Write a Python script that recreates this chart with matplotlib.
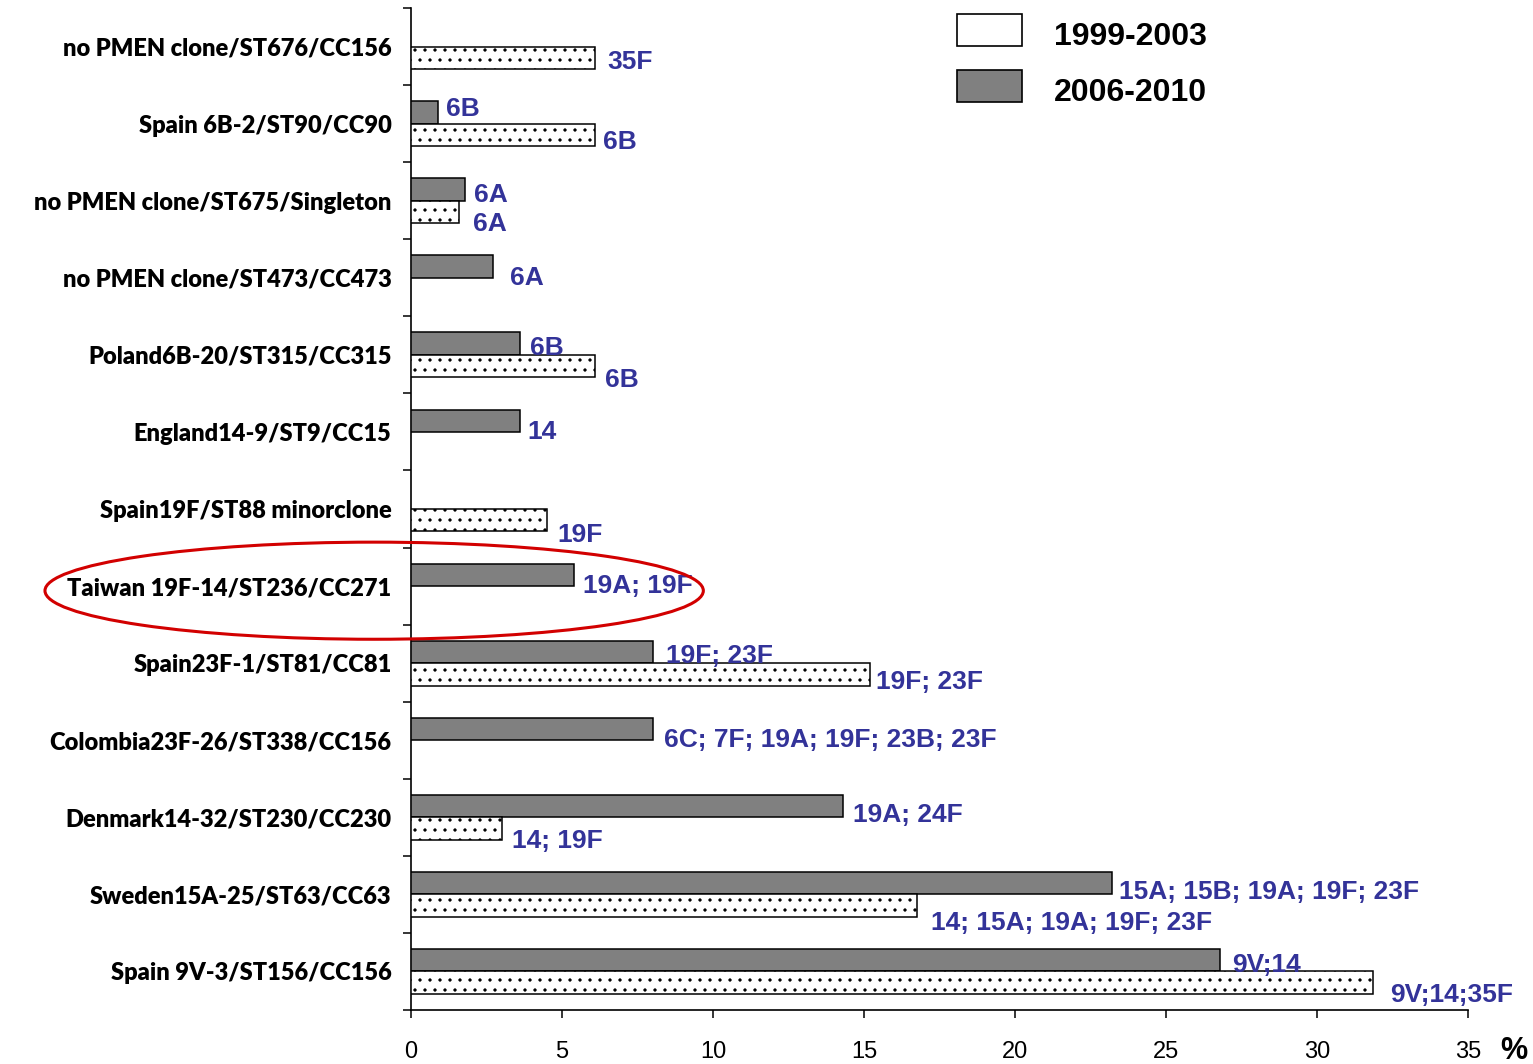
import matplotlib
matplotlib.use("Agg")
import matplotlib.pyplot as plt
import matplotlib.hatch as mhatch
from matplotlib.patches import Ellipse, Rectangle
import numpy as np

# ---------------- data ----------------
categories = [
    "no PMEN clone/ST676/CC156",
    "Spain 6B-2/ST90/CC90",
    "no PMEN clone/ST675/Singleton",
    "no PMEN clone/ST473/CC473",
    "Poland6B-20/ST315/CC315",
    "England14-9/ST9/CC15",
    "Spain19F/ST88 minorclone",
    "Taiwan 19F-14/ST236/CC271",
    "Spain23F-1/ST81/CC81",
    "Colombia23F-26/ST338/CC156",
    "Denmark14-32/ST230/CC230",
    "Sweden15A-25/ST63/CC63",
    "Spain 9V-3/ST156/CC156",
]
pct_1999_2003 = [6.1, 6.1, 1.6, 0, 6.1, 0, 4.5, 0, 15.2, 0, 3.0, 16.75, 31.85]
pct_2006_2010 = [0, 0.9, 1.8, 2.7, 3.6, 3.6, 0, 5.4, 8.0, 8.0, 14.3, 23.2, 26.8]
sero_1999_2003 = ["35F", "6B", "6A", "", "6B", "", "19F", "", "19F; 23F", "",
                  "14; 19F", "14; 15A; 19A; 19F; 23F", "9V;14;35F"]
sero_2006_2010 = ["", "6B", "6A", "6A", "6B", "14", "", "19A; 19F", "19F; 23F",
                  "6C; 7F; 19A; 19F; 23B; 23F", "19A; 24F",
                  "15A; 15B; 19A; 19F; 23F", "9V;14"]
series_names = ["1999-2003", "2006-2010"]
x_ticks = [0, 5, 10, 15, 20, 25, 30, 35]
highlight = "Taiwan 19F-14/ST236/CC271"

# label offsets (pixels: gap right of bar end, shift of text centre below bar centre)
off_1999 = [(12, 1.5), (8, 4.5), (14, 10), (0, 0), (10, 11.5), (0, 0), (10, 12), (0, 0),
            (6, 5.5), (0, 0), (10, 10), (14, 15), (17, 9.5)]
off_2006 = [(0, 0), (8, -6), (9, 2.5), (17, 9), (10, 2), (8, 8.5), (0, 0), (9, 8.5),
            (13, 2), (11, 8.5), (10, 6), (7, 6), (12, 2)]

# ---------------- style ----------------
W, H = 1533, 1064
DPI = 100
PT = 72.0 / DPI
GRAY = "#808080"
BLUE = "#333399"
LABEL_FONT = "Liberation Sans"
CAT_FONT = "Lato"


# sparser dotted fill (Excel-like small-dot pattern); num_rows must be even
class _SparseDots(mhatch.Circles):
    size = 0.13
    filled = True

    def __init__(self, hatch, density):
        self.num_rows = hatch.count('.') * 5
        super().__init__(hatch, density)


mhatch._hatch_types = [(_SparseDots if t is mhatch.SmallFilledCircles else t)
                       for t in mhatch._hatch_types]
plt.rcParams["hatch.linewidth"] = 0.4

fig = plt.figure(figsize=(W / DPI, H / DPI), dpi=DPI)
fig.patch.set_facecolor("white")
ax_l, ax_r, ax_t, ax_b = 411, 1468, 8, 1010
ax = fig.add_axes([ax_l / W, 1 - ax_b / H, (ax_r - ax_l) / W, (ax_b - ax_t) / H])

n = len(categories)
ypos = np.arange(n)
bh = 0.29
shift = 0.145

v_old = np.array(pct_1999_2003, dtype=float)
v_new = np.array(pct_2006_2010, dtype=float)
m_old = v_old > 0
m_new = v_new > 0

ax.barh(ypos[m_new] - shift, v_new[m_new], height=bh, color=GRAY,
        edgecolor="black", linewidth=1.1, zorder=3)
ax.barh(ypos[m_old] + shift, v_old[m_old], height=bh, color="white",
        edgecolor="black", linewidth=1.1, hatch="..", zorder=3)

CAP_HALF = 9.5  # px, half cap height of 19pt bold text
for vals, texts, offs, sgn in ((v_new, sero_2006_2010, off_2006, -1),
                               (v_old, sero_1999_2003, off_1999, 1)):
    for i in range(n):
        if vals[i] <= 0 or not texts[i]:
            continue
        dx, dy = offs[i]
        ax.annotate(texts[i], xy=(vals[i], ypos[i] + sgn * shift),
                    xytext=(dx * PT, -(dy + CAP_HALF) * PT),
                    textcoords="offset points", ha="left", va="baseline",
                    color=BLUE, fontsize=19, fontweight="bold",
                    family=LABEL_FONT, zorder=5, annotation_clip=False)

ax.set_xlim(0, 35)
ax.set_ylim(n - 0.5, -0.5)
ax.set_xticks(x_ticks)
ax.set_xticklabels([str(t) for t in x_ticks], family=LABEL_FONT, fontsize=17)
ax.tick_params(axis="x", direction="out", length=6, width=1.1, pad=16)

ax.set_yticks(ypos)
ax.set_yticklabels(categories, family=CAT_FONT, fontweight="heavy", fontsize=17)
ax.set_yticks(np.arange(n + 1) - 0.5, minor=True)
ax.tick_params(axis="y", which="major", length=0, pad=14)
ax.tick_params(axis="y", which="minor", direction="out", length=6, width=1.1)

for s in ("top", "right"):
    ax.spines[s].set_visible(False)
for s in ("left", "bottom"):
    ax.spines[s].set_linewidth(1.2)

# "%" axis unit
ax.annotate("%", xy=(1.0, 0), xycoords="axes fraction", xytext=(32 * PT, -49 * PT),
            textcoords="offset points", ha="left", va="baseline",
            fontsize=22, fontweight="bold", family=LABEL_FONT,
            annotation_clip=False)

# highlight ellipse around the Taiwan row
hi = categories.index(highlight)
ell = Ellipse(xy=(-1.22, hi + 0.06), width=21.8, height=1.26, fill=False,
              edgecolor="#D20000", linewidth=2.2, clip_on=False, zorder=6)
ax.add_patch(ell)

# legend (manual, figure pixel coordinates)
def fx(px):
    return px / W

def fy(py):
    return 1 - py / H

leg_boxes = [(14, 46, "white"), (70, 102, GRAY)]
for (top, bot, col), name in zip(leg_boxes, series_names):
    fig.patches.append(Rectangle((fx(957), fy(bot)), fx(1022) - fx(957),
                                 fy(top) - fy(bot), facecolor=col,
                                 edgecolor="black", linewidth=1.2,
                                 transform=fig.transFigure, figure=fig))
    fig.text(fx(1054), fy((top + bot) / 2 + 4 + 11.4), name, ha="left",
             va="baseline", fontsize=23, fontweight="bold", family=LABEL_FONT)

fig.savefig("out.png", dpi=DPI)
